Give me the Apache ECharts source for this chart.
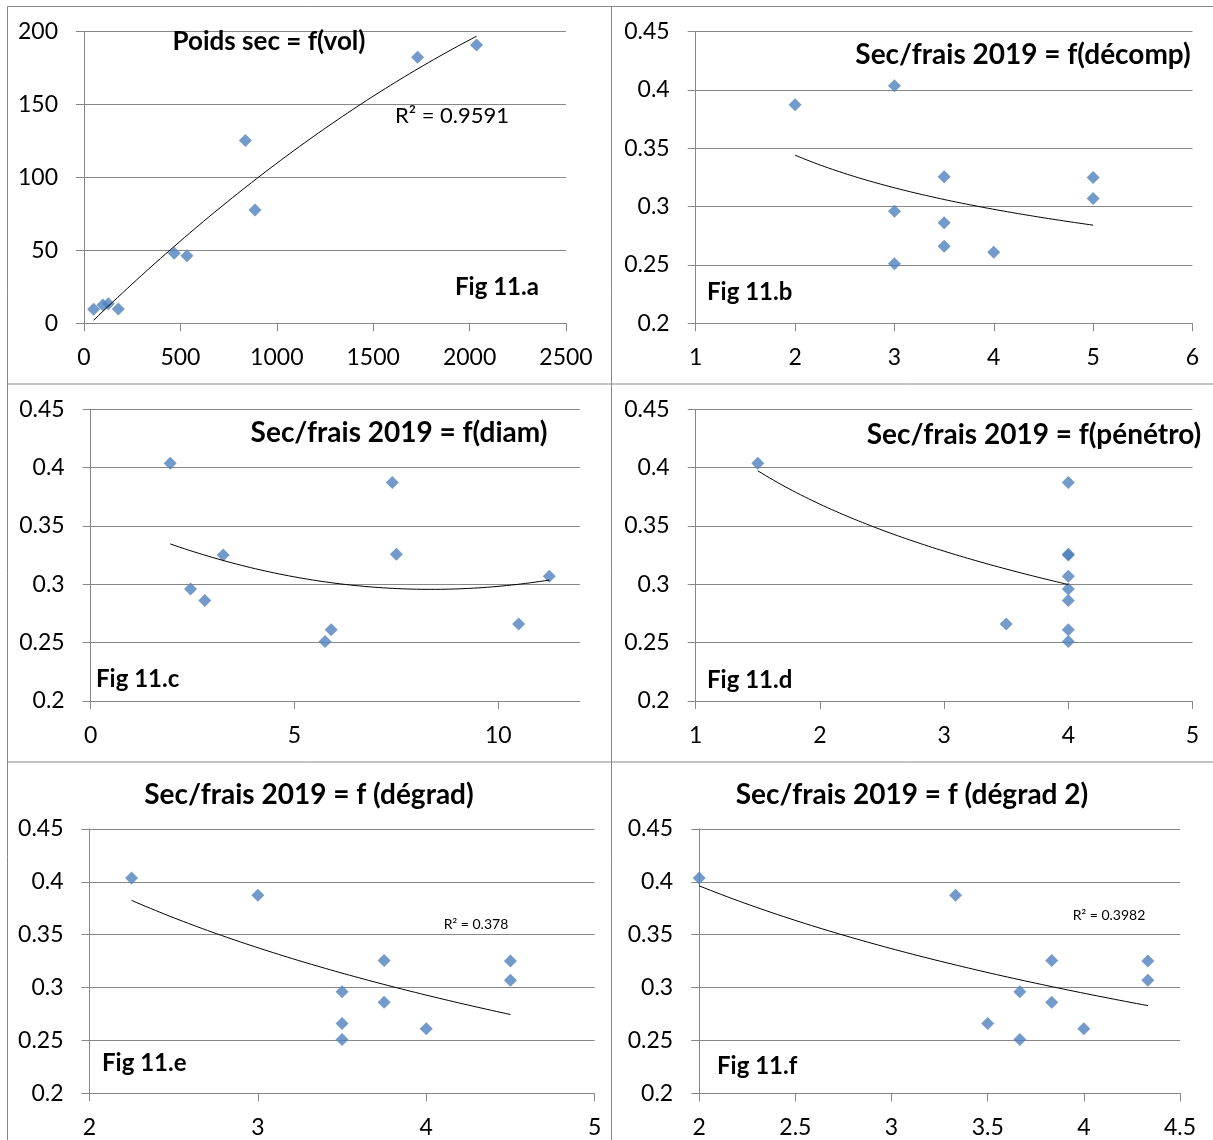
<!DOCTYPE html>
<html>
<head>
<meta charset="utf-8">
<title>Fig 11</title>
<script src="https://cdn.jsdelivr.net/npm/echarts@6/dist/echarts.min.js"></script>
<style>
  html, body { margin: 0; padding: 0; background: #fff; }
  #main { width: 1213px; height: 1140px; }
</style>
</head>
<body>
<div id="main"></div>
<script>
// Fig 11.a : dry weight vs volume
var vol = [50, 98, 126, 178, 468, 534, 837, 887, 1730, 2036];
var poidsSec = [9.6, 12.6, 13.4, 9.8, 48, 46.4, 125.3, 77.7, 182.4, 190.9];

// Fig 11.b-f : dry/fresh ratio 2019, same 10 samples on every panel
var ratio = [0.4037, 0.3873, 0.3257, 0.3251, 0.307, 0.296, 0.2862, 0.266, 0.261, 0.251];
var decomp = [3, 2, 3.5, 5, 5, 3, 3.5, 3.5, 4, 3];
var diam = [1.95, 7.4, 7.5, 3.25, 11.25, 2.45, 2.8, 10.5, 5.9, 5.75];
var penetro = [1.5, 4, 4, 4, 4, 4, 4, 3.5, 4, 4];
var degrad = [2.25, 3, 3.75, 4.5, 4.5, 3.5, 3.75, 3.5, 4, 3.5];
var degrad2 = [2, 3.333, 3.833, 4.333, 4.333, 3.667, 3.833, 3.5, 4, 3.667];

var gray = '#878787';
var blue = '#4F81BD';
var font = 'Lato';

// least squares trend lines (as the spreadsheet did)
function fitPoly2(xs, ys) {
  var s = [0, 0, 0, 0, 0], t = [0, 0, 0];
  for (var i = 0; i < xs.length; i++) {
    var x = xs[i], y = ys[i];
    s[0] += 1; s[1] += x; s[2] += x * x; s[3] += x * x * x; s[4] += x * x * x * x;
    t[0] += y; t[1] += x * y; t[2] += x * x * y;
  }
  var m = [[s[0], s[1], s[2], t[0]], [s[1], s[2], s[3], t[1]], [s[2], s[3], s[4], t[2]]];
  for (var c = 0; c < 3; c++) {
    for (var r = c + 1; r < 3; r++) {
      var f = m[r][c] / m[c][c];
      for (var k = c; k < 4; k++) m[r][k] -= f * m[c][k];
    }
  }
  var b = [0, 0, 0];
  for (var r2 = 2; r2 >= 0; r2--) {
    var v = m[r2][3];
    for (var k2 = r2 + 1; k2 < 3; k2++) v -= m[r2][k2] * b[k2];
    b[r2] = v / m[r2][r2];
  }
  return function (x) { return b[0] + b[1] * x + b[2] * x * x; };
}

function linFit(xs, ys) {
  var n = xs.length, mx = 0, my = 0, sxy = 0, sxx = 0;
  for (var i = 0; i < n; i++) { mx += xs[i] / n; my += ys[i] / n; }
  for (var j = 0; j < n; j++) {
    sxy += (xs[j] - mx) * (ys[j] - my);
    sxx += (xs[j] - mx) * (xs[j] - mx);
  }
  var b = sxy / sxx;
  return [my - b * mx, b];
}

function fitLog(xs, ys) {
  var ab = linFit(xs.map(Math.log), ys);
  return function (x) { return ab[0] + ab[1] * Math.log(x); };
}

function fitPower(xs, ys) {
  var ab = linFit(xs.map(Math.log), ys.map(Math.log));
  return function (x) { return Math.exp(ab[0]) * Math.pow(x, ab[1]); };
}

function trend(fn, xs) {
  var lo = Math.min.apply(null, xs), hi = Math.max.apply(null, xs), pts = [];
  for (var i = 0; i <= 80; i++) {
    var x = lo + (hi - lo) * i / 80;
    pts.push([x, fn(x)]);
  }
  return pts;
}

function pairs(xs, ys) {
  return xs.map(function (x, i) { return [x, ys[i]]; });
}

var panels = [
  { xs: vol, ys: poidsSec, fit: fitPoly2, grid: [84, 31.7, 482, 291.6], x: [0, 2500, 500], y: [0, 200, 50] },
  { xs: decomp, ys: ratio, fit: fitPower, grid: [695.7, 31.7, 496.8, 291.6], x: [1, 6, 1], y: [0.2, 0.45, 0.05] },
  { xs: diam, ys: ratio, fit: fitPoly2, grid: [90.7, 409.3, 489.1, 291.7], x: [0, 12, 5], y: [0.2, 0.45, 0.05], ticks: [0, 5, 10] },
  { xs: penetro, ys: ratio, fit: fitLog, grid: [695.7, 409.3, 496.8, 291.7], x: [1, 5, 1], y: [0.2, 0.45, 0.05] },
  { xs: degrad, ys: ratio, fit: fitLog, grid: [89.5, 829, 505.1, 264.3], x: [2, 5, 1], y: [0.2, 0.45, 0.05] },
  { xs: degrad2, ys: ratio, fit: fitLog, grid: [699.2, 829, 480.8, 264.3], x: [2, 4.5, 0.5], y: [0.2, 0.45, 0.05] }
];

function plain(v) { return String(+v.toFixed(4)); }

var grids = [], xAxes = [], yAxes = [], series = [];
panels.forEach(function (p, i) {
  grids.push({ left: p.grid[0], top: p.grid[1], width: p.grid[2], height: p.grid[3] });
  var xa = {
    type: 'value', gridIndex: i, min: p.x[0], max: p.x[1], interval: p.x[2],
    axisLine: { show: true, onZero: false, lineStyle: { color: gray, width: 1 } },
    axisTick: { show: true, length: 8, lineStyle: { color: gray } },
    splitLine: { show: false },
    axisLabel: { color: '#000', fontFamily: font, fontSize: 23, margin: 23, formatter: plain }
  };
  if (p.ticks) {
    xa.axisTick.customValues = p.ticks;
    xa.axisLabel.customValues = p.ticks;
  }
  xAxes.push(xa);
  yAxes.push({
    type: 'value', gridIndex: i, min: p.y[0], max: p.y[1], interval: p.y[2],
    axisLine: { show: true, lineStyle: { color: gray, width: 1 } },
    axisTick: { show: true, length: 8, lineStyle: { color: gray } },
    splitLine: { show: true, lineStyle: { color: gray, width: 1 } },
    axisLabel: { color: '#000', fontFamily: font, fontSize: 23, margin: 26, formatter: plain }
  });
  series.push({
    type: 'scatter', xAxisIndex: i, yAxisIndex: i,
    symbol: 'diamond', symbolSize: 13,
    itemStyle: { color: blue },
    data: pairs(p.xs, p.ys),
    z: 2
  });
  series.push({
    type: 'line', xAxisIndex: i, yAxisIndex: i,
    showSymbol: false, smooth: false,
    lineStyle: { color: '#000', width: 1 },
    data: trend(p.fit(p.xs, p.ys), p.xs),
    z: 3
  });
});

function txt(x, y, s, size, bold, align) {
  return {
    type: 'text', x: x, y: y, z: 10,
    style: {
      text: s, fill: '#000', fontFamily: font, fontSize: size,
      fontWeight: bold ? 'bold' : 'normal',
      align: align || 'center', verticalAlign: 'middle'
    }
  };
}

function ln(x1, y1, x2, y2) {
  return { type: 'line', shape: { x1: x1, y1: y1, x2: x2, y2: y2 }, style: { stroke: gray, lineWidth: 1 }, z: 10 };
}

var graphics = [
  // panel frames
  ln(7.5, 6.5, 1213, 6.5), ln(7.5, 6.5, 7.5, 1140), ln(611.5, 6.5, 611.5, 1140),
  ln(7.5, 384, 1213, 384), ln(7.5, 762, 1213, 762),
  // titles
  txt(269, 42, 'Poids sec = f(vol)', 26, true),
  txt(1023, 55, 'Sec/frais 2019 = f(décomp)', 28, true),
  txt(399, 433, 'Sec/frais 2019 = f(diam)', 28, true),
  txt(1034, 435, 'Sec/frais 2019 = f(pénétro)', 28, true),
  txt(309, 795, 'Sec/frais 2019 = f (dégrad)', 28, true),
  txt(912, 795, 'Sec/frais 2019 = f (dégrad 2)', 28, true),
  // figure tags
  txt(455, 287, 'Fig 11.a', 24, true, 'left'),
  txt(707, 292, 'Fig 11.b', 24, true, 'left'),
  txt(96, 679, 'Fig 11.c', 24, true, 'left'),
  txt(707, 680, 'Fig 11.d', 24, true, 'left'),
  txt(102, 1063, 'Fig 11.e', 24, true, 'left'),
  txt(717, 1066, 'Fig 11.f', 24, true, 'left'),
  // R² labels
  txt(452, 116, 'R² = 0.9591', 22, false),
  txt(476, 924, 'R² = 0.378', 14, false),
  txt(1109, 915, 'R² = 0.3982', 14, false)
];

var chartDom = document.getElementById('main');
var myChart = echarts.init(chartDom, null, { renderer: 'canvas' });
var option = {
  animation: false,
  backgroundColor: '#fff',
  grid: grids,
  xAxis: xAxes,
  yAxis: yAxes,
  series: series,
  graphic: graphics
};
myChart.setOption(option);
</script>
</body>
</html>
